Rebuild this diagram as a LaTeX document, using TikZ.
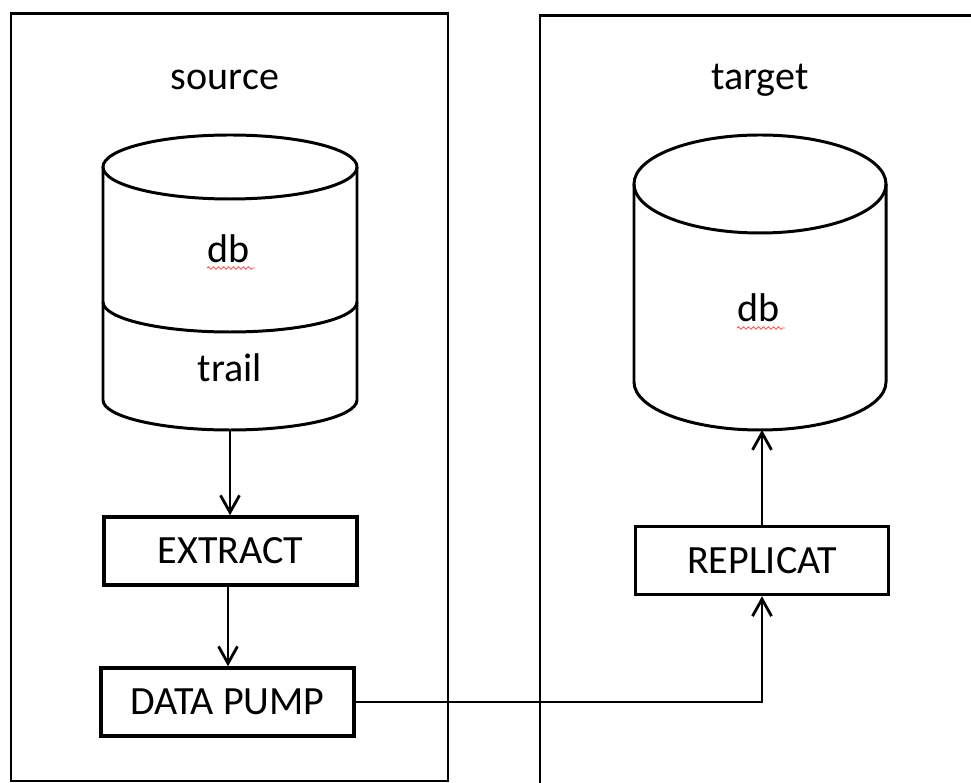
\documentclass[tikz,border=0pt]{standalone}
\usepackage{fontspec}
\setmainfont{Carlito}
\usetikzlibrary{arrows.meta,decorations.pathmorphing}
\tikzset{
  frame/.style={draw=black, line width=1.7pt},
  cyl/.style={draw=black, line width=1.7pt},
  procbox/.style={draw=black, line width=2pt, inner sep=0pt, minimum width=5.07cm, minimum height=1.36cm, font=\fontsize{22.8}{27}\selectfont},
  lbl/.style={inner sep=0pt, anchor=base, font=\fontsize{22.8}{27}\selectfont},
  arr/.style={draw=black, line width=1.6pt, -{Straight Barb[length=0.34cm,width=0.38cm,line width=1.6pt]}},
  squig/.style={draw=red!65, line width=0.5pt, decorate, decoration={snake, segment length=0.1cm, amplitude=0.025cm}}
}
\begin{document}
\begin{tikzpicture}[x=0.02cm, y=-0.02cm]
\useasboundingbox (0,0) rectangle (971,783);
\clip (0,0) rectangle (971,783);
\fill[white] (0,0) rectangle (971,783);
% containers
\draw[frame] (11,14) rectangle (448,781);
\draw[frame] (540,16) rectangle (990,800);
\node[lbl] (srclbl) at (225,90) {source};
\node[lbl] (tgtlbl) at (760,90) {target};
% source cylinder
\draw[cyl] (230,167) ellipse [x radius=127, y radius=32];
\draw[cyl] (103,167) -- (103,400) arc[start angle=180, end angle=0, x radius=127, y radius=30] -- (357,167);
\draw[cyl] (103,302) arc[start angle=180, end angle=0, x radius=127, y radius=30];
\coordinate (cylS) at (230,430);
\node[lbl] (dbS) at (229,263) {db};
\node[lbl] (trail) at (230,382) {trail};
\draw[squig] (207,268) -- (255,268);
% target cylinder
\draw[cyl] (760,184) ellipse [x radius=126, y radius=49];
\draw[cyl] (634,184) -- (634,382) arc[start angle=180, end angle=0, x radius=126, y radius=48] -- (886,184);
\coordinate (cylT) at (760,430);
\node[lbl] (dbT) at (759,322) {db};
\draw[squig] (737,328) -- (785,328);
% process boxes
\node[procbox] (extract) at (230.5,551) {EXTRACT};
\node[procbox] (pump) at (227.5,702) {DATA PUMP};
\node[procbox] (replicat) at (762,560.5) {REPLICAT};
% connectors
\draw[arr] (cylS) -- (cylS |- extract.north);
\draw[arr] ([xshift=-0.05cm]extract.south) -- ([xshift=-0.05cm]extract.south |- pump.north);
\draw[arr] (pump.east) -| (replicat.south);
\draw[arr] (replicat.north) -- (replicat.north |- cylT);
\end{tikzpicture}
\end{document}
